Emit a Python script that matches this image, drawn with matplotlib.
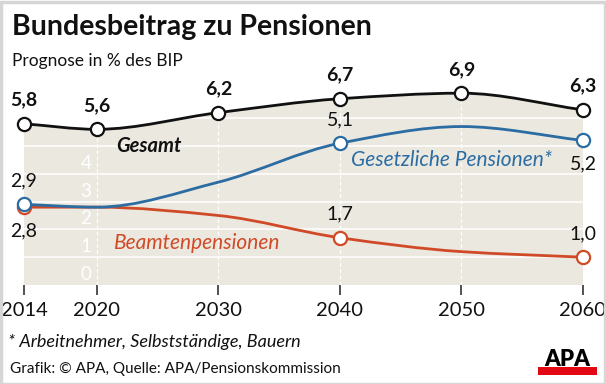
import numpy as np
import matplotlib
matplotlib.use('Agg')
from matplotlib import pyplot as plt
from matplotlib.path import Path
from matplotlib.patches import PathPatch, Rectangle

plt.rcParams['font.family'] = ['Lato', 'DejaVu Sans']

years = [2014, 2020, 2030, 2040, 2050, 2060]
gesamt = [5.8, 5.6, 6.2, 6.7, 6.9, 6.3]
gesetzlich = [2.9, 2.8, 3.7, 5.1, 5.7, 5.2]
beamte = [2.8, 2.8, 2.5, 1.7, 1.2, 1.0]

# which points get a circle / label, label above (+1) or below (-1)
gesamt_marks = [0, 1, 2, 3, 4, 5]
gesetzlich_marks = [0, 3, 5]
beamte_marks = [0, 3, 5]
gesamt_side = [1, 1, 1, 1, 1, 1]
gesetzlich_side = [1, 1, -1]
beamte_side = [-1, 1, 1]

c_black = '#111111'
c_blue = '#2b6ca3'
c_red = '#d04a27'
c_bg = '#ebe8e0'

W, H = 606, 384


def pchip_slopes(x, y):
    x = np.asarray(x, float)
    y = np.asarray(y, float)
    h = np.diff(x)
    d = np.diff(y) / h
    m = np.zeros_like(y)
    for k in range(1, len(x) - 1):
        if d[k - 1] * d[k] <= 0:
            m[k] = 0
        else:
            w1 = 2 * h[k] + h[k - 1]
            w2 = h[k] + 2 * h[k - 1]
            m[k] = (w1 + w2) / (w1 / d[k - 1] + w2 / d[k])
    m[0] = d[0]
    m[-1] = d[-1]
    return m


def smooth(x, y):
    m = pchip_slopes(x, y)
    verts = [(x[0], y[0])]
    codes = [Path.MOVETO]
    for i in range(len(x) - 1):
        h = x[i + 1] - x[i]
        verts += [(x[i] + h / 3, y[i] + m[i] * h / 3),
                  (x[i + 1] - h / 3, y[i + 1] - m[i + 1] * h / 3),
                  (x[i + 1], y[i + 1])]
        codes += [Path.CURVE4] * 3
    return verts, codes


fig = plt.figure(figsize=(W / 100, H / 100), dpi=100)
x0, x1 = 24, 583
y0px, unit = 285, 27.8
ax = fig.add_axes([x0 / W, (H - y0px) / H, (x1 - x0) / W, 7 * unit / H])
ax.set_xlim(2014, 2060)
ax.set_ylim(0, 7)
ax.set_facecolor('none')
for s in ax.spines.values():
    s.set_visible(False)

# beige area under the total
v, c = smooth(years, gesamt)
area = PathPatch(Path([(years[0], 0)] + v + [(years[-1], 0), (years[0], 0)],
                      [Path.MOVETO, Path.LINETO] + c[1:] + [Path.LINETO, Path.CLOSEPOLY]),
                 facecolor=c_bg, edgecolor='none', zorder=0)
ax.add_patch(area)

for yv in range(1, 7):
    ln = ax.axhline(yv, color='white', lw=1.1, zorder=1)
    ln.set_clip_path(area)
for xv in years[1:-1]:
    ln = ax.axvline(xv, color='white', lw=0.9, ls=(0, (3, 2)), zorder=1)
    ln.set_clip_path(area)

for yv in range(0, 5):
    ax.text(2019.1, yv + 0.38, str(yv), color='white', fontsize=13.5,
            ha='center', va='center', zorder=2)


def draw(vals, color, marks, sides, bold):
    v, c = smooth(years, vals)
    ax.add_patch(PathPatch(Path(v, c), facecolor='none', edgecolor=color,
                           lw=2.0, zorder=3, clip_on=False))
    xs = [years[i] for i in marks]
    ys = [vals[i] for i in marks]
    ax.plot(xs, ys, 'o', ms=9.5, mfc='white', mec=color, mew=1.6,
            zorder=4, clip_on=False)
    for xv, yv, s in zip(xs, ys, sides):
        ax.annotate(f'{yv:.1f}'.replace('.', ','), (xv, yv),
                    xytext=(0, 17 * s), textcoords='offset points',
                    ha='center', va='center', fontsize=14, color=c_black,
                    fontweight='bold' if bold else 'normal', zorder=5,
                    annotation_clip=False)


draw(beamte, c_red, beamte_marks, beamte_side, False)
draw(gesetzlich, c_blue, gesetzlich_marks, gesetzlich_side, False)
draw(gesamt, c_black, gesamt_marks, gesamt_side, True)

ax.text(2021.6, 5.0, 'Gesamt', fontsize=14.5, fontweight='bold', style='italic',
        color=c_black, ha='left', va='center')
ax.text(2040.9, 4.5, 'Gesetzliche Pensionen*', fontsize=15, style='italic',
        color=c_blue, ha='left', va='center')
ax.text(2021.4, 1.5, 'Beamtenpensionen', fontsize=15, style='italic',
        color=c_red, ha='left', va='center')

ax.set_yticks([])
ax.set_xticks(years)
ax.set_xticklabels([str(y) for y in years], fontsize=14.5)
ax.tick_params(axis='x', direction='out', length=7.5, width=1.1, color='#222222',
               pad=5, labelcolor=c_black)

# texts around
fig.text(12 / W, 1 - 27 / H, 'Bundesbeitrag zu Pensionen', fontsize=20.5,
         fontweight='bold', ha='left', va='center', color=c_black)
fig.text(12 / W, 1 - 61 / H, 'Prognose in % des BIP', fontsize=12.5,
         ha='left', va='center', color=c_black)
fig.text(8 / W, 1 - 342 / H, '* Arbeitnehmer, Selbstständige, Bauern',
         fontsize=13, style='italic', ha='left', va='center', color=c_black)
fig.text(10 / W, 1 - 369 / H, 'Grafik: © APA, Quelle: APA/Pensionskommission',
         fontsize=11, ha='left', va='center', color=c_black)

# APA logo
fig.patches.append(Rectangle((538 / W, 1 - 375 / H), 59 / W, 8 / H,
                             transform=fig.transFigure, facecolor='#e30613',
                             edgecolor='none'))
fig.text(567.5 / W, 1 - 366.5 / H, 'APA', fontsize=16, fontweight='heavy',
         ha='center', va='baseline', color='black')

# frame
fig.patches.append(Rectangle((0.5 / W, 0.5 / H), (W - 2) / W, (H - 2) / H,
                             transform=fig.transFigure, facecolor='none',
                             edgecolor='#d6d6d6', lw=2.5))

fig.savefig('out.png', dpi=100)
